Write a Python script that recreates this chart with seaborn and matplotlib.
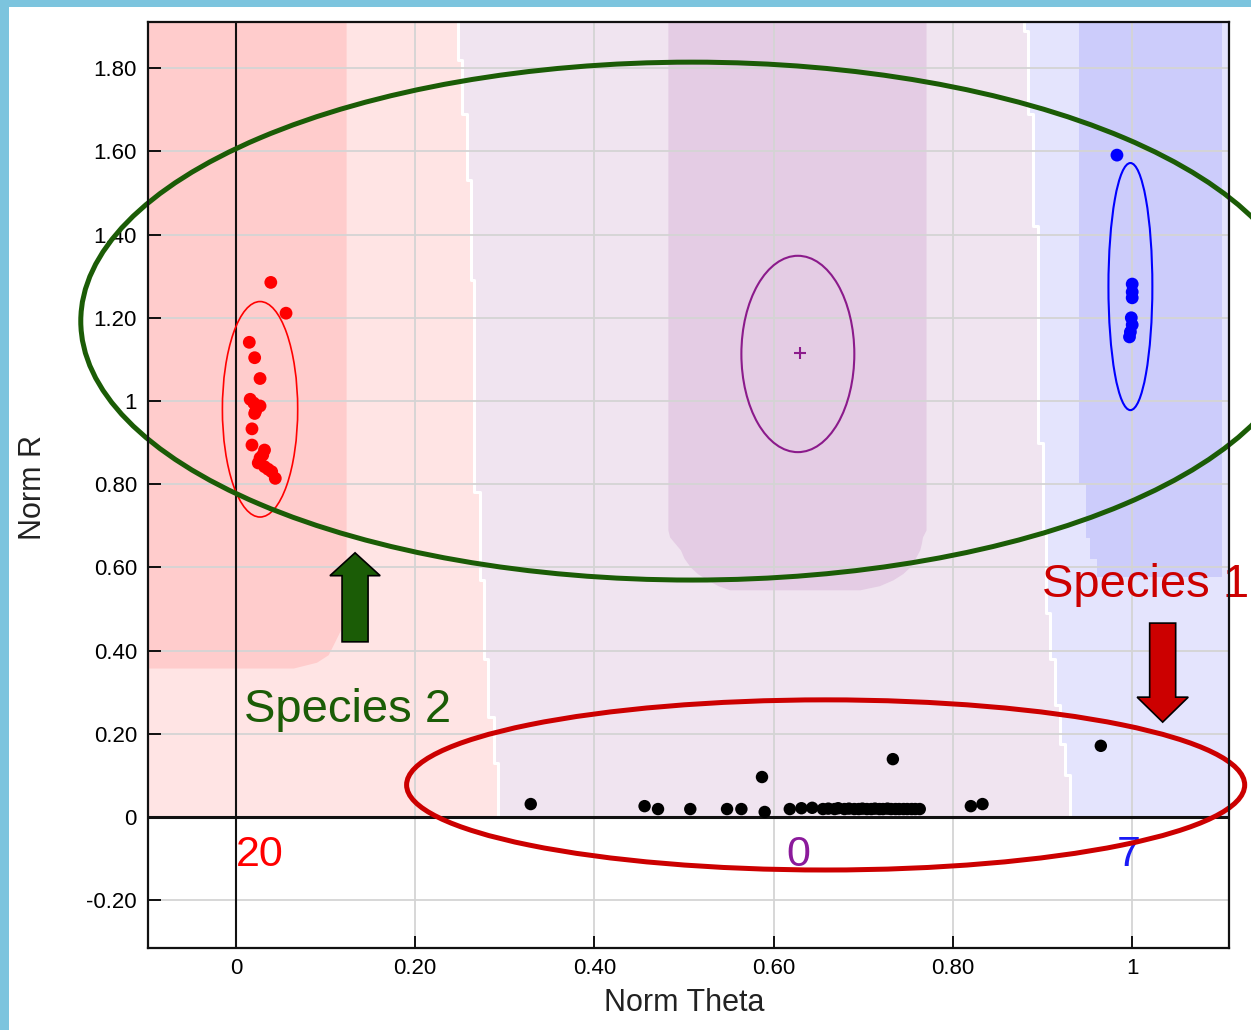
import numpy as np
import matplotlib
matplotlib.use("Agg")
import matplotlib.pyplot as plt
from matplotlib import font_manager
from matplotlib.patches import Ellipse, Rectangle, FancyArrow
import seaborn as sns

# ---------------- data ----------------
# Species 2 (red cluster)
red_x = [0.039, 0.056, 0.015, 0.021, 0.027, 0.016, 0.020, 0.027, 0.021, 0.022,
         0.018, 0.018, 0.032, 0.027, 0.032, 0.040, 0.044, 0.025, 0.030, 0.036]
red_y = [1.285, 1.211, 1.141, 1.104, 1.054, 1.004, 0.995, 0.988, 0.970, 0.975,
         0.933, 0.894, 0.882, 0.863, 0.842, 0.830, 0.814, 0.851, 0.870, 0.836]
# blue cluster
blue_x = [0.983, 1.000, 1.000, 1.000, 0.999, 1.000, 0.998, 0.997]
blue_y = [1.591, 1.281, 1.262, 1.248, 1.200, 1.183, 1.166, 1.154]
# Species 1 (black points near R = 0)
black_x = [0.329, 0.456, 0.471, 0.507, 0.548, 0.564, 0.587, 0.590, 0.618, 0.631,
           0.643, 0.655, 0.661, 0.668, 0.672, 0.679, 0.684, 0.690, 0.695, 0.699,
           0.704, 0.709, 0.713, 0.718, 0.722, 0.727, 0.733, 0.731, 0.736, 0.740,
           0.745, 0.749, 0.754, 0.758, 0.763, 0.820, 0.833, 0.965]
black_y = [0.031, 0.026, 0.019, 0.019, 0.019, 0.019, 0.096, 0.012, 0.019, 0.021,
           0.022, 0.019, 0.020, 0.019, 0.021, 0.019, 0.020, 0.019, 0.019, 0.020,
           0.019, 0.019, 0.020, 0.019, 0.019, 0.020, 0.139, 0.019, 0.019, 0.019,
           0.019, 0.019, 0.019, 0.019, 0.019, 0.026, 0.031, 0.171]

# cluster ellipses: (cx, cy, width, height)
ell_red = (0.027, 0.980, 0.084, 0.518)
ell_purple = (0.627, 1.113, 0.126, 0.472)
ell_blue = (0.998, 1.275, 0.049, 0.594)
purple_center = (0.629, 1.115)

# cluster counts
count_labels = ["20", "0", "7"]
count_x = [0.027, 0.627, 0.996]

# decision-region boundaries (stairs in y)
b1_edges = [0.0, 0.13, 0.24, 0.38, 0.57, 0.78, 1.29, 1.53, 1.69, 1.82, 1.95]
b1_vals = [0.293, 0.288, 0.281, 0.277, 0.272, 0.266, 0.262, 0.258, 0.252, 0.248]
b2_edges = [0.0, 0.10, 0.176, 0.27, 0.38, 0.49, 0.69, 0.90, 1.42, 1.69, 1.89, 1.95]
b2_vals = [0.931, 0.925, 0.919, 0.914, 0.908, 0.904, 0.900, 0.895, 0.889, 0.884, 0.879]
# core regions
red_core_y = [0.358, 0.372, 0.39, 0.42, 0.455, 0.47, 1.95]
red_core_x = [0.064, 0.090, 0.103, 0.110, 0.118, 0.123, 0.123]
pur_core_y = [0.546, 0.556, 0.570, 0.585, 0.601, 0.622, 0.642, 0.660, 0.673, 0.69, 1.95]
pur_core_l = [0.551, 0.538, 0.526, 0.515, 0.507, 0.500, 0.496, 0.489, 0.484, 0.482, 0.482]
pur_core_r = [0.696, 0.718, 0.733, 0.744, 0.752, 0.758, 0.763, 0.765, 0.766, 0.770, 0.770]
blu_core_y = [0.577, 0.62, 0.67, 0.80, 1.95]
blu_core_l = [0.961, 0.953, 0.948, 0.941, 0.941]
blu_core_r = 1.100

xticks = [0, 0.2, 0.4, 0.6, 0.8, 1.0]
xtick_labels = ["0", "0.20", "0.40", "0.60", "0.80", "1"]
yticks = [-0.2, 0, 0.2, 0.4, 0.6, 0.8, 1.0, 1.2, 1.4, 1.6, 1.8]
ytick_labels = ["-0.20", "0", "0.20", "0.40", "0.60", "0.80", "1", "1.20", "1.40", "1.60", "1.80"]

XMIN, XMAX = -0.098, 1.108
YMIN, YMAX = -0.315, 1.911

# ---------------- style ----------------
sns.set_theme(style="white")
plt.rcParams["font.family"] = ["Liberation Sans", "DejaVu Sans"]
names = {f.name for f in font_manager.fontManager.ttflist}
narrow = "Liberation Sans Narrow" if "Liberation Sans Narrow" in names else "Liberation Sans"
count_size = 36 if narrow == "Liberation Sans Narrow" else 31

W, H = 1251, 1030
fig = plt.figure(figsize=(W / 100, H / 100), dpi=100)
fig.patch.set_facecolor("#7CC4DE")
fig.patches.append(Rectangle((9 / W, 0), 1 - 9 / W, 1 - 7 / H, transform=fig.transFigure,
                             facecolor="white", edgecolor="none", zorder=-10))
ax = fig.add_axes([148 / W, 1 - 948 / H, (1229 - 148) / W, (948 - 22) / H])
ax.set_zorder(1)
ax.set_facecolor("white")
ax.set_axisbelow("line")

C_RED_L, C_RED_D = "#FFE4E4", "#FFCCCC"
C_PUR_L, C_PUR_D = "#F0E4F0", "#E4CCE4"
C_BLU_L, C_BLU_D = "#E4E4FD", "#CCCCFB"

e1 = np.array(b1_edges); v1 = np.array(b1_vals + [b1_vals[-1]])
e2 = np.array(b2_edges); v2 = np.array(b2_vals + [b2_vals[-1]])
ax.fill_betweenx(e1, XMIN - 0.05, v1, step="post", color=C_RED_L, lw=0, zorder=0.5)
ygrid = np.unique(np.concatenate([e1, e2]))
def stair(edges, vals, y):
    idx = np.searchsorted(edges, y, side="right") - 1
    idx = np.clip(idx, 0, len(vals) - 1)
    return np.array(vals)[idx]
ax.fill_betweenx(ygrid, stair(e1, b1_vals, ygrid), stair(e2, b2_vals, ygrid),
                 step="post", color=C_PUR_L, lw=0, zorder=0.5)
ax.fill_betweenx(e2, v2, XMAX + 0.05, step="post", color=C_BLU_L, lw=0, zorder=0.5)
# core regions
ax.fill_betweenx(red_core_y, XMIN - 0.05, red_core_x, color=C_RED_D, lw=0, zorder=0.6)
ax.fill_betweenx(pur_core_y, pur_core_l, pur_core_r, color=C_PUR_D, lw=0, zorder=0.6)
ax.fill_betweenx(blu_core_y, blu_core_l, blu_core_r, step="post", color=C_BLU_D,
                 lw=0, zorder=0.6)
# white boundary lines
for edges, vals in ((b1_edges, b1_vals), (b2_edges, b2_vals)):
    xs = np.repeat(vals, 2)
    ys = np.repeat(edges, 2)[1:-1]
    ax.plot(xs, ys, color="white", lw=2.2, zorder=0.7, solid_capstyle="butt")

# axes lines at 0
ax.axhline(0, color="#111111", lw=2.2, zorder=2)
ax.axvline(0, color="#111111", lw=1.5, zorder=2)

# points
sns.scatterplot(x=red_x, y=red_y, color="#FF0000", s=85, edgecolor="none", ax=ax, zorder=4)
sns.scatterplot(x=blue_x, y=blue_y, color="#0000FF", s=85, edgecolor="none", ax=ax, zorder=4)
sns.scatterplot(x=black_x, y=black_y, color="black", s=80, edgecolor="none", ax=ax, zorder=4)

# cluster ellipses
for (cx, cy, w, h), col, lw in ((ell_red, "#FF0000", 1.2),
                                (ell_purple, "#8B1A8B", 1.5),
                                (ell_blue, "#0000FF", 1.5)):
    ax.add_patch(Ellipse((cx, cy), w, h, fill=False, edgecolor=col, lw=lw, zorder=3))
ax.plot([purple_center[0]], [purple_center[1]], marker="+", color="#8B1A8B",
        ms=9, mew=1.5, zorder=3)

# counts
for lab, x, col in zip(count_labels, count_x, ["#FF0000", "#8B1A9B", "#1A1AF5"]):
    ax.text(x, -0.118, lab, color=col, fontsize=count_size, family=narrow,
            ha="center", va="baseline", zorder=5)

# annotations
GREEN = "#1B5C06"
DARKRED = "#CC0000"
ax.add_patch(Ellipse((0.509, 1.192), 1.364, 1.245, fill=False, edgecolor=GREEN,
                     lw=3.6, zorder=6, clip_on=False))
ax.add_patch(Ellipse((0.658, 0.077), 0.935, 0.409, fill=False, edgecolor=DARKRED,
                     lw=3.6, zorder=6, clip_on=False))
ax.add_patch(FancyArrow(0.133, 0.421, 0, 0.214, width=0.029, head_width=0.056,
                        head_length=0.055, length_includes_head=True,
                        facecolor=GREEN, edgecolor="black", lw=1.2, zorder=7))
ax.add_patch(FancyArrow(1.034, 0.466, 0, -0.238, width=0.029, head_width=0.057,
                        head_length=0.060, length_includes_head=True,
                        facecolor=DARKRED, edgecolor="black", lw=1.2, zorder=7,
                        clip_on=False))
ax.text(0.009, 0.228, "Species 2", color=GREEN, fontsize=34, ha="left",
        va="baseline", zorder=8)
ax.text(0.8996, 0.529, "Species 1", color=DARKRED, fontsize=34, ha="left",
        va="baseline", zorder=8, clip_on=False)

# axes formatting
ax.set_xlim(XMIN, XMAX)
ax.set_ylim(YMIN, YMAX)
ax.set_xticks(xticks)
ax.set_xticklabels(xtick_labels)
ax.set_yticks(yticks)
ax.set_yticklabels(ytick_labels)
ax.grid(True, color="#D4D4D4", lw=1.3)
ax.tick_params(axis="both", direction="in", length=9, width=1.3, colors="black",
               labelsize=16, bottom=True, left=True, top=False, right=False)
ax.tick_params(axis="x", pad=7)
ax.tick_params(axis="y", pad=8)
for sp in ax.spines.values():
    sp.set_color("#111111")
    sp.set_linewidth(1.6)
    sp.set_zorder(9)

ax.set_xlabel("Norm Theta", fontsize=22, color="#222222")
ax.set_ylabel("Norm R", fontsize=22, color="#222222")
ax.xaxis.set_label_coords(0.496, -0.043)
ax.xaxis.label.set_va("top")
ax.yaxis.set_label_coords((33 - 148) / (1229 - 148), 0.497)
ax.yaxis.label.set_va("center")

fig.savefig("out.png", dpi=100, facecolor=fig.get_facecolor())
